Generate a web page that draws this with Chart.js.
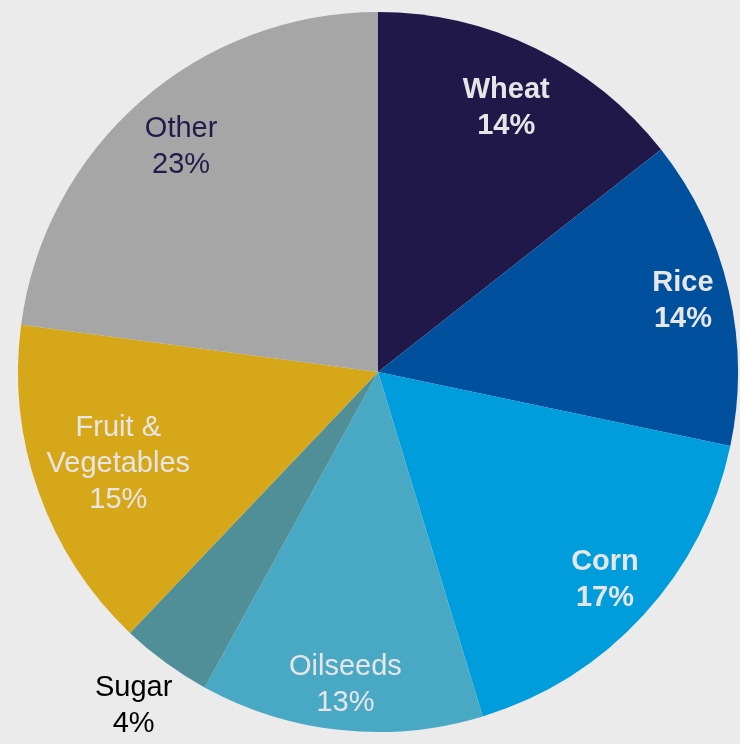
<!DOCTYPE html>
<html>
<head>
<meta charset="utf-8">
<script src="https://cdn.jsdelivr.net/npm/chart.js@4"></script>
<style>
  html, body { margin: 0; padding: 0; background: #ebebeb; }
  #wrap { width: 740px; height: 744px; }
</style>
</head>
<body>
<div id="wrap"><canvas id="js-chart-pie"></canvas></div>
<script>
// Chart data
const categories = ['Wheat', 'Rice', 'Corn', 'Oilseeds', 'Sugar', 'Fruit & Vegetables', 'Other'];
const shares = [14.4, 13.9, 17.0, 12.7, 4.1, 15.0, 22.9];
const labelLines = [['Wheat'], ['Rice'], ['Corn'], ['Oilseeds'], ['Sugar'], ['Fruit &', 'Vegetables'], ['Other']];

// Styling
const sliceColors = ['#21184a', '#00509d', '#009ddc', '#49a9c5', '#508f98', '#d6a819', '#a6a6a6'];
const labelColors = ['#e6e6e6', '#e6e6e6', '#e6e6e6', '#e6e6e6', '#000000', '#e6e6e6', '#221b4c'];
const labelBold = [true, true, true, false, false, false, false];
const labelRadius = [0.815, 0.87, 0.855, 0.875, 1.15, 0.765, 0.83];

// Draws two-line labels (name + rounded percentage) at each slice's mid angle
const sliceLabels = {
  id: 'sliceLabels',
  afterDraw(chart) {
    const ctx = chart.ctx;
    const arcs = chart.getDatasetMeta(0).data;
    ctx.save();
    ctx.textAlign = 'center';
    ctx.textBaseline = 'middle';
    arcs.forEach((arc, i) => {
      const mid = (arc.startAngle + arc.endAngle) / 2;
      const r = arc.outerRadius * labelRadius[i];
      const x = arc.x + Math.cos(mid) * r;
      const y = arc.y + Math.sin(mid) * r;
      const lines = labelLines[i].concat([Math.round(shares[i]) + '%']);
      const lh = 36;
      ctx.font = (labelBold[i] ? 'bold ' : '') + '29px "Liberation Sans", Arial, sans-serif';
      ctx.fillStyle = labelColors[i];
      lines.forEach((t, j) => {
        ctx.fillText(t, x, y + (j - (lines.length - 1) / 2) * lh);
      });
    });
    ctx.restore();
  }
};

new Chart(document.getElementById('js-chart-pie'), {
  type: 'pie',
  data: {
    labels: categories,
    datasets: [{
      data: shares,
      backgroundColor: sliceColors,
      borderWidth: 0
    }]
  },
  options: {
    responsive: true,
    maintainAspectRatio: false,
    animation: false,
    layout: { padding: { left: 18, right: 2, top: 12, bottom: 12 } },
    plugins: {
      legend: { display: false },
      tooltip: { enabled: false }
    }
  },
  plugins: [sliceLabels]
});
</script>
</body>
</html>
